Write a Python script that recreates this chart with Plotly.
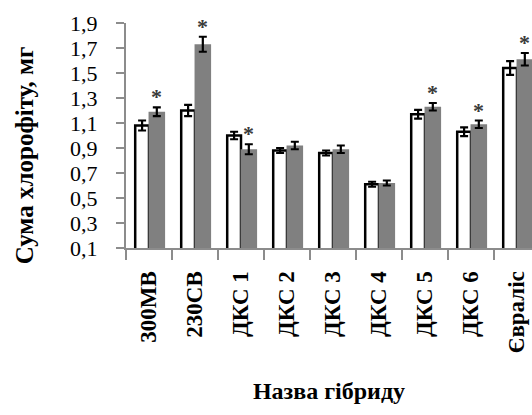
import plotly.graph_objects as go

# Chlorophyll sum per maize hybrid: control (white) vs treatment (grey)
hybrids = ["300МВ", "230СВ", "ДКС 1", "ДКС 2", "ДКС 3", "ДКС 4", "ДКС 5", "ДКС 6", "Євраліс"]
control = [1.08, 1.20, 1.00, 0.88, 0.86, 0.61, 1.17, 1.03, 1.54]
control_err = [0.04, 0.045, 0.03, 0.02, 0.02, 0.02, 0.035, 0.035, 0.055]
treated = [1.19, 1.73, 0.89, 0.92, 0.89, 0.62, 1.23, 1.09, 1.61]
treated_err = [0.035, 0.06, 0.04, 0.03, 0.03, 0.02, 0.03, 0.03, 0.05]
significant = [True, True, True, False, False, False, True, True, True]
y_ticks = [0.1, 0.3, 0.5, 0.7, 0.9, 1.1, 1.3, 1.5, 1.7, 1.9]

FONT = "Liberation Serif"
AXIS_GREY = "#8c8c8c"

W_OFF, W_WIDTH = -0.30, 0.30
G_OFF, G_WIDTH = -0.01, 0.36
CAT_PX = 46  # pixels per category on the x axis

fig = go.Figure()
fig.add_trace(go.Bar(
    x=hybrids, y=control, offset=W_OFF, width=W_WIDTH,
    marker=dict(color="white", line=dict(color="black", width=2.5)),
    error_y=dict(type="data", array=control_err, color="black", thickness=2.2, width=4),
    showlegend=False,
))
fig.add_trace(go.Bar(
    x=hybrids, y=treated, offset=G_OFF, width=G_WIDTH,
    marker=dict(color="#808080", line=dict(width=0)),
    error_y=dict(type="data", array=treated_err, color="black", thickness=2.2, width=4),
    showlegend=False,
))

# significance marks above the treated bars
shift = (G_OFF + G_WIDTH / 2) * CAT_PX
for h, v, e, s in zip(hybrids, treated, treated_err, significant):
    if s:
        fig.add_annotation(
            x=h, y=v + e, xref="x", yref="y", text="<b>*</b>", showarrow=False,
            xanchor="center", yanchor="bottom", xshift=shift, yshift=-4,
            font=dict(family=FONT, size=22, color="#3a3a3a"),
        )

# y-axis title, set a little below the plot's vertical centre
fig.add_annotation(
    xref="paper", yref="paper", x=-0.25, y=0.41, text="<b>Сума хлорофіту, мг</b>",
    textangle=-90, showarrow=False, xanchor="center", yanchor="middle",
    font=dict(family=FONT, size=25, color="black"),
)

fig.update_layout(
    width=532, height=415,
    margin=dict(l=126, r=0, t=23, b=167),
    paper_bgcolor="white", plot_bgcolor="white",
    barmode="overlay",
    separators=", ",
    font=dict(family=FONT, color="black"),
)
fig.update_xaxes(
    type="category", range=[-0.5, 8.326],
    showline=True, linecolor=AXIS_GREY, linewidth=2,
    ticks="outside", tickson="boundaries", ticklen=10, tickwidth=2, tickcolor=AXIS_GREY,
    tickangle=-90, ticklabelstandoff=12,
    tickfont=dict(family=FONT, size=23, color="black", weight="bold"),
    showgrid=False,
    title=dict(text="<b>Назва гібриду</b>", font=dict(family=FONT, size=24, color="black"), standoff=30),
)
fig.update_yaxes(
    range=[0.1, 1.9], tickvals=y_ticks, tickformat=".1f",
    showline=True, linecolor=AXIS_GREY, linewidth=2,
    ticks="outside", ticklen=8, tickwidth=2, tickcolor=AXIS_GREY,
    ticklabelstandoff=14,
    tickfont=dict(family=FONT, size=22, color="black"),
    showgrid=False, zeroline=False,
)

fig.write_html("out.html")
